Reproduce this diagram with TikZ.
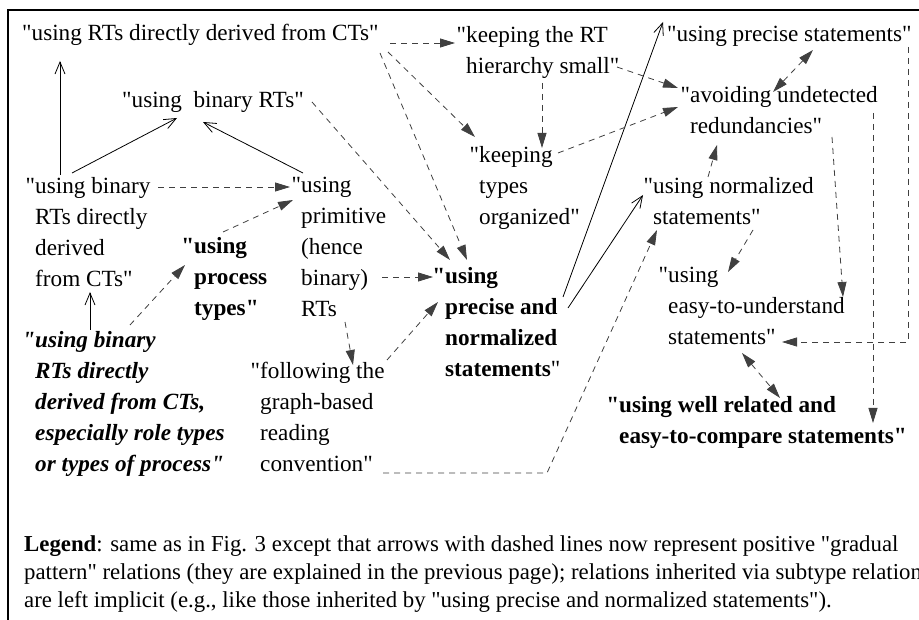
\documentclass[tikz,border=0pt]{standalone}
\usepackage{fontspec}
\setmainfont{Liberation Serif}[Ligatures=TeXOff]
\usetikzlibrary{arrows.meta}
\newcommand{\dfont}{\fontsize{23.2}{31}\selectfont}
\newcommand{\hq}{\llap{"}}
\tikzset{
  stmt/.style={anchor=north west, inner sep=0pt, align=left, font=\dfont},
  bstmt/.style={stmt, font=\dfont\bfseries},
  isa/.style={line width=0.8pt, -{Straight Barb[length=12pt,width=10pt]}},
  grad/.style={line width=0.8pt, black!75, dash pattern=on 6pt off 5pt, -{Triangle[length=15pt,width=9pt]}},
  gradboth/.style={grad, {Triangle[length=15pt,width=9pt]}-{Triangle[length=15pt,width=9pt]}}
}
\begin{document}
\begin{tikzpicture}[x=1pt, y=-1pt]
\useasboundingbox (0,0) rectangle (919,620);
\clip (0,0) rectangle (919,620);
\draw[line width=1.3pt] (8,620) -- (8,10) -- (919,10);

\node[stmt]  (ctRT)     at (22,24)   {"using RTs directly derived from CTs"};
\node[stmt]  (kRT)      at (466,26)  {\hq keeping the RT\\hierarchy small"};
\node[stmt]  (precS)    at (667,26)  {"using precise statements"};
\node[stmt]  (binRT)    at (122,91)  {"using\ \ binary RTs"};
\node[stmt]  (avoid)    at (690,86)  {\hq avoiding undetected\\redundancies"};
\node[stmt]  (keepT)    at (479,146) {\hq keeping\\types\\organized"};
\node[stmt]  (binDer)   at (35,177)  {\hq using binary\\RTs directly\\derived\\from CTs"};
\node[stmt]  (prim)     at (301,177) {\hq using\\primitive\\(hence\\binary)\\RTs};
\node[bstmt] (procT)    at (194,237) {\hq using\\process\\types"};
\node[bstmt] (precNorm) at (445,267) {\hq using\\precise and\\normalized\\statements{\mdseries"}};
\node[stmt, font=\dfont\bfseries\itshape] (italic) at (35,331)
  {\hq using binary\\RTs directly\\derived from CTs,\\especially role types\\or types of process"};
\node[stmt]  (follow)   at (260,362) {\hq following the\\graph-based\\reading\\convention"};
\node[stmt]  (norm)     at (653,177) {\hq using normalized\\statements"};
\node[stmt]  (easy)     at (668,267) {\hq using\\easy-to-understand\\statements"};
\node[bstmt] (wellRel)  at (619,396) {\hq using well related and\\easy-to-compare statements"};
\node[stmt, font=\fontsize{22.8}{28}\selectfont] (legend) at (24,535)
  {\textbf{Legend}: same as in Fig. 3 except that arrows with dashed lines now represent positive "gradual\\
   pattern" relations (they are explained in the previous page); relations inherited via subtype relations\\
   are left implicit (e.g., like those inherited by "using precise and normalized statements").};

\draw[isa] ([shift={(25,-2)}]binDer.north west) -- ([shift={(38,37)}]ctRT.north west);
\draw[isa] ([shift={(37,-4)}]binDer.north west) -- ([shift={(55,27)}]binRT.north west);
\draw[isa] ([shift={(2,-4)}]prim.north west) -- ([shift={(81,31)}]binRT.north west);
\draw[isa] ([shift={(55,-1)}]italic.north west) -- ([shift={(55,115)}]binDer.north west);
\draw[isa] ([shift={(118,30)}]precNorm.north west) -- ([shift={(-4,-4)}]precS.north west);
\draw[isa] ([shift={(123,41)}]precNorm.north west) -- ([shift={(-10,18)}]norm.north west);

\draw[grad] ([shift={(368,19)}]ctRT.north west) -- ([shift={(-11,17)}]kRT.north west);
\draw[grad] ([shift={(366,28)}]ctRT.north west) -- ([shift={(-4,-9)}]keepT.north west);
\draw[grad] ([shift={(358,29)}]ctRT.north west) -- ([shift={(22,-7)}]precNorm.north west);
\draw[grad] ([shift={(190,11)}]binRT.north west) -- ([shift={(5,-7)}]precNorm.north west);
\draw[grad] ([shift={(76,57)}]kRT.north west) -- ([shift={(63,2)}]keepT.north west);
\draw[grad] ([shift={(151,41)}]kRT.north west) -- ([shift={(-12,2)}]avoid.north west);
\draw[grad] ([shift={(79,7)}]keepT.north west) -- ([shift={(-12,21)}]avoid.north west);
\draw[gradboth] ([shift={(146,24)}]precS.north west) -- ([shift={(83,6)}]avoid.north west);
\draw[grad] ([shift={(123,10)}]binDer.north west) -- ([shift={(-11,10)}]prim.north west);
\draw[grad] ([shift={(95,-6)}]italic.north west) -- ([shift={(-9,28)}]procT.north west);
\draw[grad] ([shift={(29,-5)}]procT.north west) -- ([shift={(-8,23)}]prim.north west);
\draw[grad] ([shift={(81,100)}]prim.north west) -- ([shift={(-12,10)}]precNorm.north west);
\draw[grad] ([shift={(44,145)}]prim.north west) -- ([shift={(93,3)}]follow.north west);
\draw[grad] ([shift={(127,-2)}]follow.north west) -- ([shift={(-7,35)}]precNorm.north west);
\draw[grad] ([shift={(123,111)}]follow.north west) -- ++(164,0) -- ([shift={(4,53)}]norm.north west);
\draw[grad] ([shift={(100,53)}]norm.north west) -- ([shift={(60,5)}]easy.north west);
\draw[grad] ([shift={(55,0)}]norm.north west) -- ([shift={(27,59)}]avoid.north west);
\draw[grad] ([shift={(142,51)}]avoid.north west) -- ([shift={(175,30)}]easy.north west);
\draw[grad] ([shift={(183,27)}]avoid.north west) -- ([shift={(254,27)}]wellRel.north west);
\draw[grad] ([shift={(241,21)}]precS.north west) |- ([shift={(114,75)}]easy.north west);
\draw[gradboth] ([shift={(74,86)}]easy.north west) -- ([shift={(161,2)}]wellRel.north west);
\end{tikzpicture}
\end{document}
